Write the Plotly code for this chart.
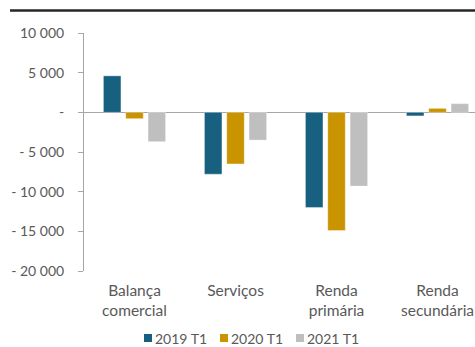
import plotly.graph_objects as go

# Balance components, first quarter of each year
categories = ["Balança<br>comercial", "Serviços", "Renda<br>primária", "Renda<br>secundária"]
series_names = ["2019 T1", "2020 T1", "2021 T1"]
values_2019 = [4600, -7800, -12000, -450]
values_2020 = [-800, -6500, -14900, 500]
values_2021 = [-3700, -3500, -9300, 1100]
series_colors = ["#17607F", "#C99400", "#BFBFBF"]

y_tickvals = [10000, 5000, 0, -5000, -10000, -15000, -20000]
y_ticktext = ["10 000", "5 000", "-", "- 5 000", "- 10 000", "- 15 000", "- 20 000"]

FONT = "Lato"
GREY_TEXT = "#595959"
AXIS_GREY = "#A6A6A6"

fig = go.Figure()
for name, vals, color in zip(series_names, [values_2019, values_2020, values_2021], series_colors):
    fig.add_trace(go.Bar(
        name=name,
        x=categories,
        y=vals,
        marker=dict(color=color, line=dict(color="rgba(255,255,255,0.6)", width=0.6)),
        showlegend=False,
    ))

n_cat = len(categories)
x_range = [-0.5, 3.371]

# compact legend row under the chart: small colour square + label per series
legend_shapes = []
legend_notes = []
entry_start = 60   # px from left edge of plot area
entry_step = 76    # px between entries
row_mid = -67      # px below the plot area's bottom edge
for i, (name, color) in enumerate(zip(series_names, series_colors)):
    x_sq = entry_start + i * entry_step
    legend_shapes.append(dict(
        type="rect", xref="paper", yref="paper",
        xsizemode="pixel", xanchor=0, x0=x_sq, x1=x_sq + 8,
        ysizemode="pixel", yanchor=0, y0=row_mid - 4, y1=row_mid + 4,
        fillcolor=color, line=dict(width=0),
    ))
    legend_notes.append(dict(
        text=name, xref="paper", yref="paper",
        x=(x_sq + 10) / 391, xanchor="left",
        y=row_mid / 238, yanchor="middle",
        showarrow=False, borderpad=0,
        font=dict(family=FONT, size=14, color=GREY_TEXT),
    ))

fig.update_layout(
    width=475,
    height=347,
    margin=dict(l=84, r=0, t=33, b=76, autoexpand=False),
    paper_bgcolor="white",
    plot_bgcolor="white",
    barmode="group",
    bargap=0.337,
    bargroupgap=0.215,
    font=dict(family=FONT, color=GREY_TEXT, size=14),
    showlegend=False,
    xaxis=dict(
        type="category",
        range=x_range,
        showline=False,
        ticks="",
        showgrid=False,
        zeroline=False,
        tickfont=dict(family=FONT, size=15.5, color=GREY_TEXT),
        ticklabelstandoff=8,
    ),
    # divider ticks sitting on the zero line between categories
    xaxis2=dict(
        overlaying="x",
        anchor="free",
        position=2 / 3,
        side="bottom",
        range=x_range,
        tickvals=[i + 0.5 for i in range(n_cat - 1)],
        ticks="outside",
        ticklen=4,
        tickwidth=1,
        tickcolor=AXIS_GREY,
        showticklabels=False,
        showline=False,
        showgrid=False,
        zeroline=False,
    ),
    yaxis=dict(
        range=[-20000, 10000],
        tickvals=y_tickvals,
        ticktext=y_ticktext,
        ticks="outside",
        ticklen=5,
        tickwidth=1,
        tickcolor=AXIS_GREY,
        showline=True,
        linecolor=AXIS_GREY,
        linewidth=1,
        showgrid=False,
        zeroline=True,
        zerolinecolor=AXIS_GREY,
        zerolinewidth=1,
        tickfont=dict(family=FONT, size=14, color=GREY_TEXT),
        ticklabelstandoff=11,
    ),
    shapes=[
        dict(
            type="line", xref="paper", yref="paper",
            xsizemode="pixel", xanchor=0, x0=-74, x1=400,
            ysizemode="pixel", yanchor=1, y0=22.5, y1=22.5,
            line=dict(color="#262626", width=2.5),
        )
    ] + legend_shapes,
    annotations=legend_notes,
)

fig.write_html("out.html")
